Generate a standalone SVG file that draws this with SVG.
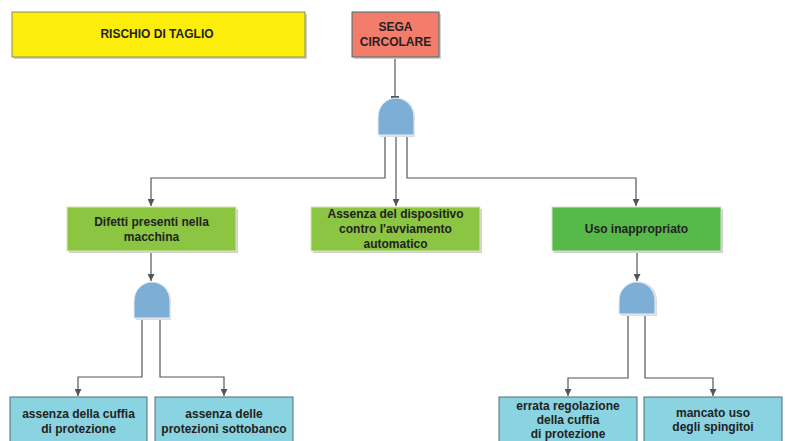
<svg xmlns="http://www.w3.org/2000/svg" width="785" height="441" viewBox="0 0 785 441">
<defs>
<style>
text{font-family:"Liberation Sans",Arial,sans-serif;font-weight:bold;font-size:12px;fill:#222;text-anchor:middle}
.sh{fill:#d0d0d0}
.ln{fill:none;stroke:#555;stroke-width:1.2}
.gate{fill:#7DAFD6;stroke:#e6eef5;stroke-width:1}
.green1{fill:#8BC541;stroke:#d8e8c0;stroke-width:1}
.green2{fill:#56B94A;stroke:#cfe6c8;stroke-width:1}
.cyan{fill:#8AD3E0;stroke:#4f6f78;stroke-width:1}
</style>
<marker id="ah" viewBox="0 0 10 10" refX="10" refY="5" markerWidth="7" markerHeight="7" orient="auto" markerUnits="userSpaceOnUse">
<path d="M0,0 L10,5 L0,10 z" fill="#555"/>
</marker>
</defs>
<rect width="785" height="441" fill="#fff"/>
<g id="connectors">
<path class="ln" d="M395,57 V97"/>
<path d="M391,97 H399" stroke="#555" stroke-width="2"/>
<path class="ln" d="M385,135 V178 H151 V206" marker-end="url(#ah)"/>
<path class="ln" d="M396,135 V206" marker-end="url(#ah)"/>
<path class="ln" d="M407,135 V178 H636 V206" marker-end="url(#ah)"/>
<path class="ln" d="M151,251 V281" marker-end="url(#ah)"/>
<path class="ln" d="M142,318 V377 H78 V396" marker-end="url(#ah)"/>
<path class="ln" d="M160,318 V377 H224 V396" marker-end="url(#ah)"/>
<path class="ln" d="M637,251 V281" marker-end="url(#ah)"/>
<path class="ln" d="M628,315 V378 H568 V396" marker-end="url(#ah)"/>
<path class="ln" d="M645,315 V378 H713 V396" marker-end="url(#ah)"/>
</g>
<g id="title">
<rect class="sh" x="14" y="14" width="293" height="45"/>
<rect x="12" y="12" width="293" height="45" fill="#FCEE0A" stroke="#8a8a6a" stroke-width="1"/>
<text x="157" y="38">RISCHIO DI TAGLIO</text>
</g>
<g id="sega">
<rect class="sh" x="354" y="14" width="87" height="45"/>
<rect x="352" y="12" width="87" height="45" fill="#F47C6B" stroke="#3b6f78" stroke-width="1"/>
<text x="395.5" y="31">SEGA</text>
<text x="395.5" y="46">CIRCOLARE</text>
</g>
<g id="gate1">
<path d="M380,137 V117 A17.5,19 0 0 1 415,117 V137 z" fill="#ddd"/>
<path class="gate" d="M378,135 V117 A18,19 0 0 1 414,117 V135 z"/>
</g>
<g id="n-difetti">
<rect class="sh" x="69" y="209" width="169" height="44"/>
<rect class="green1" x="67" y="207" width="169" height="44"/>
<text x="151.5" y="226">Difetti presenti nella</text>
<text x="151.5" y="241">macchina</text>
</g>
<g id="n-assenza">
<rect class="sh" x="313" y="209" width="169" height="44"/>
<rect class="green1" x="311" y="207" width="169" height="44"/>
<text x="395.5" y="218">Assenza del dispositivo</text>
<text x="395.5" y="233">contro l'avviamento</text>
<text x="395.5" y="248">automatico</text>
</g>
<g id="n-uso">
<rect class="sh" x="554" y="209" width="169" height="44"/>
<rect class="green2" x="552" y="207" width="169" height="44"/>
<text x="636.5" y="233">Uso inappropriato</text>
</g>
<g id="gate2">
<path d="M136,320 V301 A17.5,19 0 0 1 171,301 V320 z" fill="#ddd"/>
<path class="gate" d="M134,318 V301 A18,19 0 0 1 170,301 V318 z"/>
</g>
<g id="gate3">
<path d="M621,316 V300 A17.5,18 0 0 1 657,300 V316 z" fill="#ddd"/>
<path class="gate" d="M619,314 V300 A18,18 0 0 1 655,300 V314 z"/>
</g>
<g id="n-cuffia">
<rect class="cyan" x="10" y="397" width="137" height="50"/>
<text x="78.5" y="418">assenza della cuffia</text>
<text x="78.5" y="433">di protezione</text>
</g>
<g id="n-sottobanco">
<rect class="cyan" x="155" y="397" width="138" height="50"/>
<text x="224" y="418">assenza delle</text>
<text x="224" y="433">protezioni sottobanco</text>
</g>
<g id="n-regolazione">
<rect class="cyan" x="499" y="397" width="138" height="50"/>
<text x="568" y="410">errata regolazione</text>
<text x="568" y="424">della cuffia</text>
<text x="568" y="438">di protezione</text>
</g>
<g id="n-spingitoi">
<rect class="cyan" x="644" y="397" width="138" height="50"/>
<text x="713" y="417">mancato uso</text>
<text x="713" y="431">degli spingitoi</text>
</g>
</svg>
